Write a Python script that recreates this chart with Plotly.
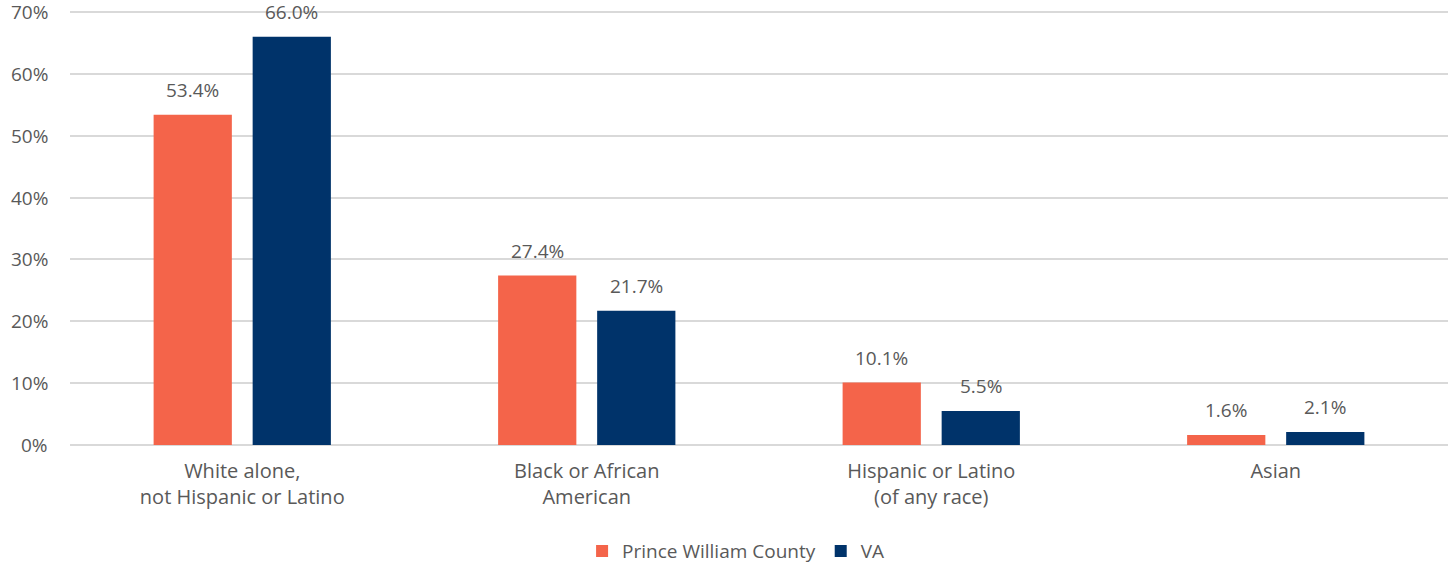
import plotly.graph_objects as go

categories = ["White alone,<br>not Hispanic or Latino", "Black or African<br>American",
              "Hispanic or Latino<br>(of any race)", "Asian"]
pwc_values = [53.4, 27.4, 10.1, 1.6]
va_values = [66.0, 21.7, 5.5, 2.1]
y_ticks = [0, 10, 20, 30, 40, 50, 60, 70]

FONT = "Open Sans, DejaVu Sans, sans-serif"
GRAY = "#595959"
SIZE = 20
SLOT = 99  # pixel width of one bar slot within a group

fig = go.Figure()
fig.add_trace(go.Bar(
    x=categories, y=pwc_values, name="Prince William County",
    marker=dict(color="#F4644A", line=dict(width=0)),
))
fig.add_trace(go.Bar(
    x=categories, y=va_values, name="VA",
    marker=dict(color="#00336A", line=dict(width=0)),
))

# value labels above each bar
for vals, shift in ((pwc_values, -SLOT / 2), (va_values, SLOT / 2)):
    for cat, v in zip(categories, vals):
        fig.add_annotation(
            x=cat, y=v, text=f"{v:.1f}%", showarrow=False,
            xshift=shift, yshift=10, yanchor="bottom",
            font=dict(size=SIZE - 1, color=GRAY, family=FONT),
        )

# y-axis labels, placed as annotations so the top one is never dropped
for t in y_ticks:
    fig.add_annotation(
        xref="paper", x=0, y=t, text=f"{t}%", showarrow=False,
        xanchor="right", yanchor="middle", xshift=-20,
        font=dict(size=SIZE - 1, color=GRAY, family=FONT),
    )

fig.update_layout(
    width=1448, height=563,
    margin=dict(l=70, r=0, t=9, b=118, autoexpand=False),
    plot_bgcolor="white", paper_bgcolor="white",
    barmode="group", bargap=0.425, bargroupgap=0.21,
    font=dict(family=FONT, size=SIZE, color=GRAY),
    legend=dict(orientation="h", xref="container", x=0.508, xanchor="center",
                yref="container", y=0.021, yanchor="middle",
                font=dict(size=SIZE - 1, color=GRAY), traceorder="normal"),
)
fig.update_yaxes(
    range=[0, 70.5], tickmode="array", tickvals=y_ticks, showticklabels=False,
    showgrid=True, gridcolor="#d9d9d9", gridwidth=1.5,
    zeroline=True, zerolinecolor="#d9d9d9", zerolinewidth=1.5,
    showline=False, ticks="",
)
fig.update_xaxes(showline=False, ticks="", ticklabelstandoff=12,
                 tickfont=dict(size=SIZE, color=GRAY, family=FONT))

fig.write_html("out.html")
